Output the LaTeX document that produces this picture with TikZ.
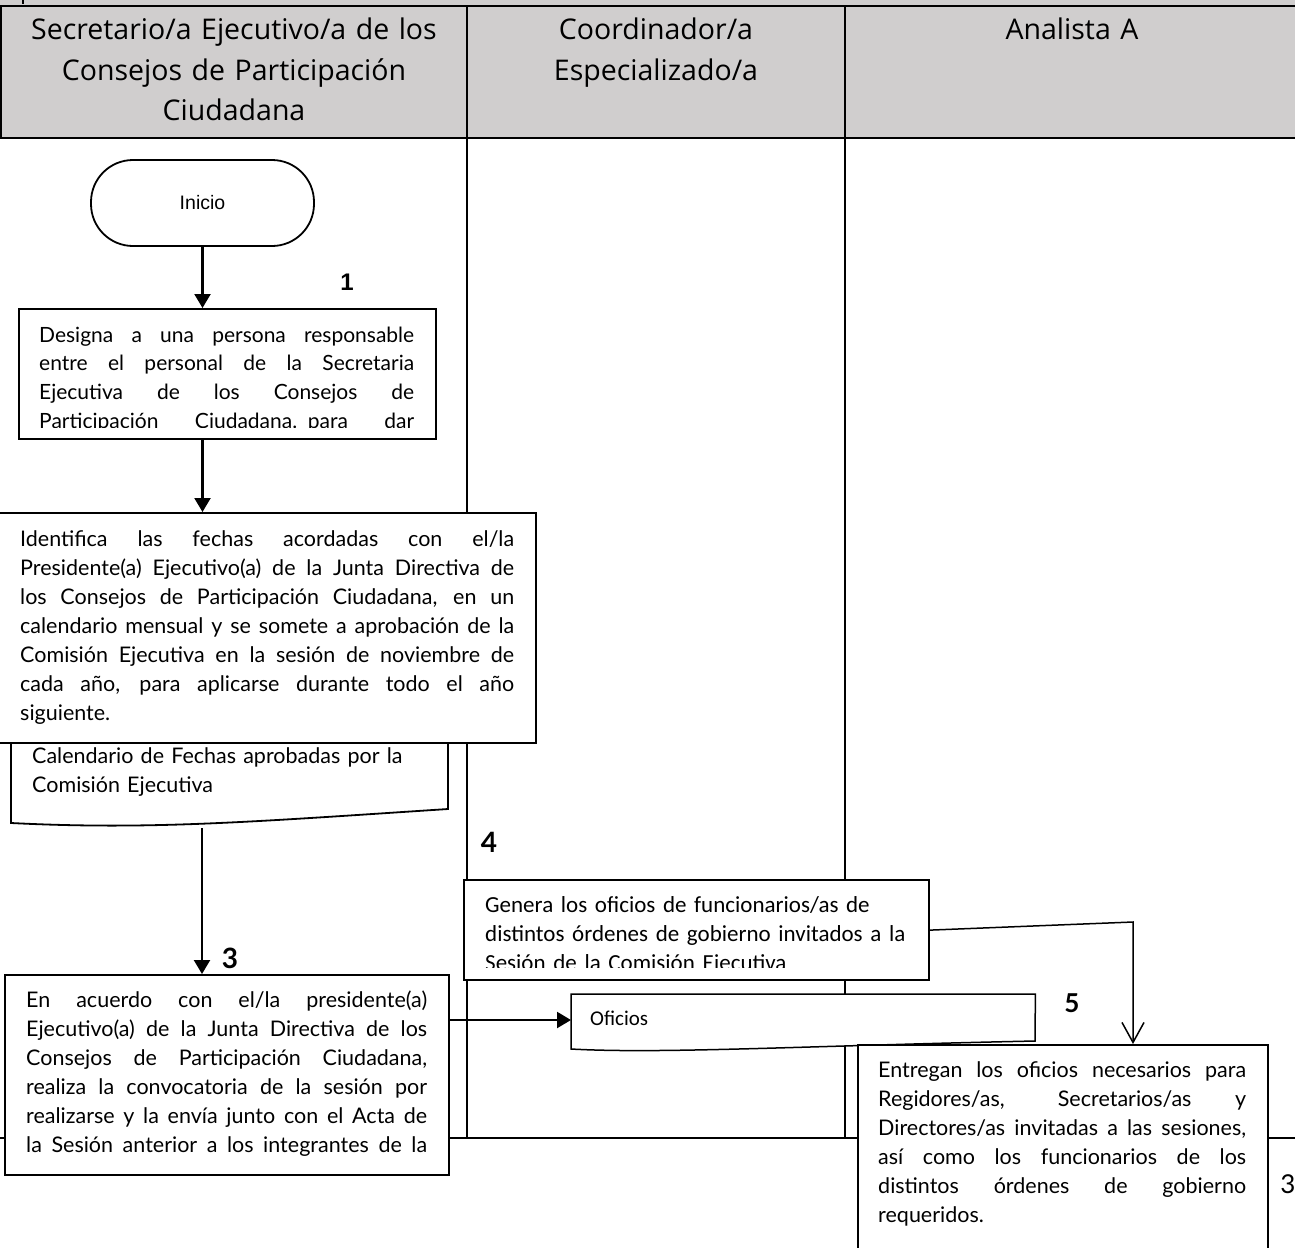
\documentclass[tikz,border=0pt]{standalone}
\usepackage{fontspec}
\setmainfont{Lato}
\newfontfamily\arialf{Liberation Sans}
\newfontfamily\calf{Carlito}
\newfontfamily\hdrf{Open Sans}
\usetikzlibrary{arrows.meta}
\definecolor{hdrgrey}{RGB}{208,206,206}
\newdimen\jw
\newcommand\jl[1]{\leavevmode\hbox to\jw{\spaceskip=\fontdimen2\font plus 1fil minus 0.4\fontdimen2\font\relax #1}}
\begin{document}
\begin{tikzpicture}[x=1pt,y=-1pt,
  lane/.style={line width=2.2pt},
  box/.style={draw, line width=2.2pt, fill=white, rectangle, inner sep=0pt, anchor=north west},
  docshape/.style={draw, line width=1.8pt, fill=white},
  btxt/.style={anchor=base west, inner sep=0pt, align=left, font=\fontsize{21.5}{29}\selectfont},
  hdr/.style={anchor=base, inner sep=0pt, align=center, text width=440pt, font=\hdrf\fontsize{28.5}{40.5}\selectfont},
  num/.style={inner sep=0pt, font=\fontsize{28}{28}\selectfont\bfseries},
  arr/.style={line width=2.2pt, -{Triangle[length=14pt,width=16pt]}},
  openarr/.style={line width=1.5pt, -{Straight Barb[length=20pt,width=22pt,line width=1.5pt]}}
]
\useasboundingbox (0,0) rectangle (1295,1247);
% header band
\fill[hdrgrey] (0,0) rectangle (1295,138);
\draw[line width=2pt] (0,6) -- (1295,6);
\draw[line width=1.2pt] (23,0) -- (23,4);
\draw[lane] (1,6) -- (1,138);
\draw[lane] (467,6) -- (467,1138);
\draw[lane] (845,6) -- (845,1138);
\draw[line width=2.5pt] (0,138) -- (1295,138);
\draw[lane] (0,1138) -- (1295,1138);
% header texts
\node[hdr] (hA) at (234,40) {Secretario/a Ejecutivo/a de los\\Consejos de Participación\\Ciudadana};
\node[hdr] (hB) at (656,40) {Coordinador/a\\Especializado/a};
\node[hdr] (hC) at (1072,40) {Analista A};
% Inicio
\node[draw, line width=1.8pt, rounded corners=42pt, minimum width=223pt, minimum height=86pt, inner sep=0pt,
      font=\arialf\fontsize{19.5}{22}\selectfont] (ini) at (202.5,203) {Inicio};
% step 1
\node[box, minimum width=417pt, minimum height=130pt] (b1) at (18,308) {};
\begin{scope}
\clip (18,308) rectangle (435,427);
\node[btxt, text width=375pt, font=\fontsize{21}{28.7}\selectfont] (t1) at (39,342) {\jw=375pt\relax
\jl{Designa a una persona responsable}\\
\jl{entre el personal de la Secretaria}\\
\jl{Ejecutiva de los Consejos de}\\
\jl{Participación Ciudadana. para dar}};
\end{scope}
\node[num, font=\arialf\fontsize{24}{24}\selectfont\bfseries] (n1) at (347,282) {1};
\draw[arr] (ini.south) -- (ini.south |- b1.north);
% document Calendario
\draw[docshape] (11,715) -- (448,715) -- (448,809) .. controls (250,822) and (150,830) .. (11,823) -- cycle;
\node[btxt, text width=410pt] (t2) at (32,763) {Calendario de Fechas aprobadas por la\\Comisión Ejecutiva};
\coordinate (d1b) at (202,828);
% step 2
\node[box, minimum width=537pt, minimum height=230pt] (b2) at (-2,512) {};
\node[btxt, text width=494pt] (tb2) at (20,546) {\jw=494pt\relax
\jl{Identifica las fechas acordadas con el/la}\\
\jl{Presidente(a) Ejecutivo(a) de la Junta Directiva de}\\
\jl{los Consejos de Participación Ciudadana, en un}\\
\jl{calendario mensual y se somete a aprobación de la}\\
\jl{Comisión Ejecutiva en la sesión de noviembre de}\\
\jl{cada año, para aplicarse durante todo el año}\\
siguiente.};
\draw[arr] (ini.south |- b1.south) -- (ini.south |- b2.north);
% step 3
\node[box, minimum width=444pt, minimum height=200pt] (b3) at (4,974) {};
\node[btxt, text width=401pt] (t3) at (26,1007) {\jw=401pt\relax
\jl{En acuerdo con el/la presidente(a)}\\
\jl{Ejecutivo(a) de la Junta Directiva de los}\\
\jl{Consejos de Participación Ciudadana,}\\
\jl{realiza la convocatoria de la sesión por}\\
\jl{realizarse y la envía junto con el Acta de}\\
\jl{la Sesión anterior a los integrantes de la}};
\draw[arr] (d1b) -- (d1b |- b3.north);
\node[num] (n3) at (230,958) {3};
% step 4
\node[box, minimum width=465pt, minimum height=100pt] (b4) at (463,879) {};
\begin{scope}
\clip (463,879) rectangle (928,967);
\node[btxt, text width=430pt, font=\calf\fontsize{23}{29}\selectfont] (t4) at (485,912) {Genera los oficios de funcionarios/as de\\
distintos órdenes de gobierno invitados a la\\
Sesión de la Comisión Ejecutiva};
\end{scope}
\node[num] (n4) at (489,842) {4};
% document Oficios
\node[inner sep=0pt, minimum width=464pt, minimum height=47pt, anchor=north west] (of) at (571,994) {};
\draw[docshape, line width=1.5pt] (of.north west) -- (of.north east) -- (1035,1041) .. controls (800,1046) and (660,1054) .. (571,1049) -- cycle;
\node[anchor=base west, inner sep=0pt, font=\calf\fontsize{21}{24}\selectfont] (oft) at (590,1025) {Oficios};
\coordinate (a3s) at (448,1020);
\draw[arr] (a3s) -- (of.west |- a3s);
% step 5
\node[box, minimum width=410pt, minimum height=230pt] (b5) at (857,1044) {};
\node[btxt, text width=368pt] (t5) at (878,1077) {\jw=368pt\relax
\jl{Entregan los oficios necesarios para}\\
\jl{Regidores/as, Secretarios/as y}\\
\jl{Directores/as invitadas a las sesiones,}\\
\jl{así como los funcionarios de los}\\
\jl{distintos órdenes de gobierno}\\
requeridos.};
\coordinate (k) at (1133,922);
\draw[openarr] (b4.east) -- (k) -- (k |- b5.north);
\node[num, font=\fontsize{26}{26}\selectfont\bfseries] (n5) at (1072,1003) {5};
\node[inner sep=0pt, font=\fontsize{26}{26}\selectfont] (n3b) at (1288,1184) {3};
\end{tikzpicture}
\end{document}
